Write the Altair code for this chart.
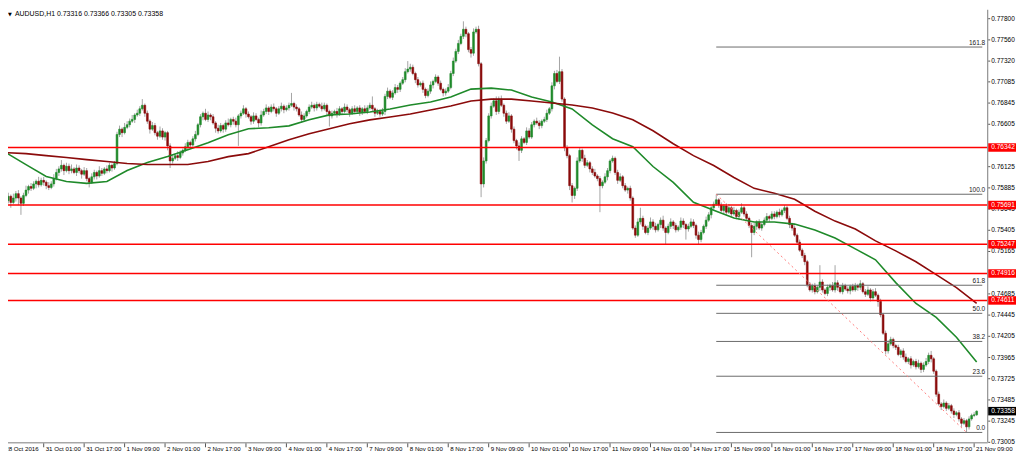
import altair as alt
import pandas as pd

# ---------------- data (prices in pips, 1 pip = 0.0001) ----------------
first_open_pips = 7578
close_pips = [
    7574, 7579, 7572, 7577, 7582, 7577, 7571, 7580, 7586, 7590, 7588, 7593, 7596, 7592, 7597, 7595,
    7591, 7589, 7593, 7599, 7606, 7610, 7614, 7608, 7613, 7608, 7610, 7606, 7611, 7608, 7604, 7608,
    7599, 7595, 7601, 7606, 7602, 7608, 7605, 7610, 7608, 7614, 7611, 7616, 7649, 7655, 7651, 7657,
    7660, 7664, 7666, 7671, 7673, 7678, 7682, 7673, 7664, 7655, 7659, 7651, 7647, 7653, 7646, 7651,
    7636, 7619, 7622, 7625, 7623, 7628, 7631, 7635, 7640, 7637, 7644, 7649, 7660, 7669, 7673, 7666,
    7671, 7669, 7662, 7656, 7653, 7659, 7655, 7662, 7660, 7666, 7664, 7660, 7670, 7673, 7678, 7672,
    7669, 7664, 7670, 7666, 7662, 7671, 7675, 7679, 7675, 7680, 7678, 7673, 7678, 7681, 7677, 7679,
    7682, 7684, 7680, 7678, 7671, 7666, 7670, 7675, 7680, 7682, 7679, 7683, 7681, 7678, 7682, 7675,
    7670, 7673, 7675, 7672, 7678, 7675, 7680, 7677, 7673, 7678, 7675, 7679, 7674, 7678, 7675, 7679,
    7682, 7678, 7673, 7675, 7672, 7675, 7692, 7698, 7691, 7696, 7702, 7700, 7707, 7711, 7720, 7723,
    7725, 7718, 7711, 7705, 7707, 7700, 7693, 7698, 7705, 7709, 7714, 7707, 7700, 7696, 7698, 7702,
    7718, 7732, 7743, 7752, 7760, 7768, 7763, 7745, 7741, 7765, 7768, 7729, 7593, 7619, 7642, 7670,
    7681, 7687, 7675, 7689, 7682, 7673, 7664, 7670, 7655, 7642, 7636, 7631, 7644, 7640, 7653, 7646,
    7660, 7664, 7662, 7659, 7664, 7666, 7673, 7678, 7704, 7718, 7709, 7720, 7689, 7634, 7625, 7591,
    7580, 7588, 7619, 7631, 7622, 7614, 7617, 7610, 7606, 7602, 7599, 7591, 7595, 7601, 7608, 7619,
    7622, 7606, 7597, 7601, 7591, 7586, 7588, 7577, 7543, 7535, 7550, 7554, 7545, 7538, 7543, 7550,
    7545, 7541, 7547, 7552, 7543, 7538, 7545, 7550, 7546, 7541, 7544, 7551, 7547, 7542, 7545, 7550,
    7546, 7535, 7530, 7538, 7545, 7552, 7558, 7566, 7570, 7575, 7569, 7563, 7568, 7561, 7566, 7559,
    7563, 7556, 7561, 7566, 7559, 7554, 7546, 7538, 7545, 7550, 7543, 7547, 7552, 7556, 7554, 7559,
    7556, 7561, 7558, 7563, 7566, 7554, 7547, 7543, 7535, 7527, 7518, 7512, 7505, 7479, 7473, 7478,
    7471, 7476, 7482, 7473, 7469, 7476, 7478, 7473, 7481, 7476, 7471, 7478, 7474, 7472, 7477, 7473,
    7478, 7476, 7480, 7471, 7468, 7473, 7464, 7471, 7467, 7460, 7445, 7424, 7404, 7412, 7417, 7410,
    7408, 7400, 7404, 7397, 7392, 7395, 7388, 7392, 7386, 7390, 7383, 7388, 7392, 7399, 7395, 7381,
    7355, 7344, 7341, 7345, 7339, 7342, 7336, 7332, 7334, 7327, 7322, 7325, 7318, 7327, 7331, 7331.6, 7335.8,
]
upper_wick_pips = [
    3, 4, 2, 5, 3, 4, 2, 3, 5, 2, 4, 3, 2, 5, 3, 4,
    2, 4, 3, 5, 4, 3, 6, 2, 4, 3, 5, 2, 4, 3, 2, 4,
    3, 2, 4, 3, 2, 5, 3, 2, 4, 3, 2, 3, 3, 4, 2, 5,
    4, 3, 5, 2, 4, 3, 7, 2, 3, 2, 4, 3, 2, 5, 3, 2,
    2, 3, 4, 2, 5, 3, 2, 4, 3, 2, 3, 4, 2, 3, 2, 5,
    4, 2, 3, 2, 4, 3, 2, 3, 5, 2, 3, 4, 2, 3, 4, 2,
    3, 2, 4, 3, 2, 5, 3, 4, 2, 3, 4, 2, 3, 4, 2, 3,
    3, 12, 2, 3, 2, 4, 3, 2, 3, 4, 2, 3, 2, 4, 3, 2,
    2, 3, 2, 4, 3, 2, 4, 3, 2, 3, 4, 2, 3, 2, 4, 3,
    3, 10, 2, 3, 2, 4, 3, 4, 2, 3, 4, 3, 2, 3, 4, 9,
    4, 3, 2, 3, 2, 3, 2, 3, 4, 2, 3, 2, 3, 2, 3, 4,
    3, 4, 3, 4, 3, 9, 3, 2, 3, 4, 3, 4, 2, 4, 3, 3,
    4, 3, 5, 3, 4, 2, 3, 4, 2, 3, 2, 4, 3, 2, 4, 3,
    3, 2, 4, 3, 2, 3, 4, 2, 4, 3, 4, 17, 3, 2, 3, 2,
    3, 2, 4, 3, 2, 4, 3, 2, 3, 4, 2, 3, 2, 4, 3, 2,
    3, 2, 3, 4, 2, 3, 2, 3, 2, 3, 4, 12, 3, 2, 3, 5,
    3, 4, 2, 3, 5, 2, 3, 4, 2, 3, 2, 4, 3, 2, 3, 4,
    3, 2, 4, 3, 2, 4, 3, 2, 3, 6, 2, 3, 2, 3, 4, 2,
    4, 2, 3, 5, 2, 3, 2, 3, 4, 2, 3, 2, 3, 4, 2, 3,
    3, 2, 4, 2, 3, 2, 3, 2, 3, 2, 3, 2, 3, 2, 3, 2,
    3, 2, 19, 3, 2, 3, 2, 4, 20, 3, 2, 3, 2, 3, 2, 3,
    3, 2, 4, 2, 3, 4, 2, 3, 4, 2, 3, 2, 3, 4, 3, 2,
    2, 3, 2, 3, 4, 2, 3, 2, 3, 4, 2, 3, 4, 3, 5, 2,
    2, 3, 2, 4, 2, 3, 2, 3, 2, 3, 2, 3, 2, 3, 2, 3, 0.8,
]
lower_wick_pips = [
    4, 3, 6, 2, 4, 8, 13, 3, 2, 4, 3, 2, 5, 3, 2, 4,
    4, 3, 2, 3, 2, 4, 3, 5, 2, 4, 3, 2, 4, 3, 5, 2,
    3, 6, 2, 3, 4, 2, 3, 2, 3, 2, 4, 2, 2, 3, 5, 2,
    2, 3, 2, 4, 2, 3, 2, 4, 3, 5, 2, 3, 4, 2, 3, 4,
    5, 8, 3, 2, 4, 2, 3, 2, 3, 4, 2, 3, 2, 3, 4, 2,
    3, 4, 2, 5, 3, 2, 4, 3, 2, 3, 4, 3, 24, 3, 2, 4,
    2, 4, 3, 2, 5, 3, 2, 3, 4, 2, 3, 4, 2, 3, 4, 2,
    3, 2, 4, 3, 2, 4, 3, 2, 3, 2, 4, 3, 2, 3, 2, 4,
    12, 3, 2, 4, 2, 3, 2, 3, 4, 2, 3, 2, 4, 3, 2, 3,
    2, 3, 4, 2, 3, 2, 4, 3, 2, 3, 2, 4, 3, 2, 3, 2,
    3, 2, 4, 3, 2, 4, 3, 2, 3, 4, 2, 3, 2, 4, 3, 2,
    2, 3, 2, 3, 2, 3, 4, 3, 5, 3, 2, 3, 15, 4, 3, 2,
    3, 2, 4, 3, 2, 4, 3, 2, 4, 3, 4, 12, 3, 2, 3, 2,
    2, 3, 2, 4, 3, 2, 3, 2, 3, 4, 2, 3, 3, 4, 3, 5,
    8, 4, 3, 2, 4, 3, 2, 4, 3, 2, 3, 30, 3, 2, 4, 3,
    2, 3, 4, 2, 3, 2, 4, 3, 2, 3, 2, 3, 4, 2, 3, 2,
    4, 3, 2, 4, 3, 14, 2, 3, 4, 3, 2, 3, 4, 12, 3, 2,
    3, 4, 6, 3, 2, 3, 2, 4, 3, 2, 3, 2, 4, 3, 2, 3,
    2, 3, 4, 2, 3, 2, 3, 28, 3, 4, 2, 3, 2, 3, 4, 2,
    3, 2, 3, 2, 3, 2, 4, 3, 2, 3, 2, 3, 4, 3, 2, 3,
    3, 2, 4, 3, 2, 3, 4, 2, 3, 4, 2, 3, 2, 3, 4, 2,
    2, 4, 3, 2, 3, 2, 4, 3, 2, 6, 3, 2, 4, 3, 2, 3,
    3, 2, 4, 3, 2, 3, 4, 2, 3, 2, 4, 3, 2, 3, 4, 3,
    3, 2, 4, 2, 3, 2, 3, 4, 2, 3, 4, 2, 6.3, 3, 2, 2, 1.1,
]

ma_bars = list(range(1, 386, 8))
green_ma_pips = [
    7628.4, 7614.9, 7601.5, 7595.8, 7593.6, 7595.8, 7608.2, 7617.2, 7623.9, 7631.8,
    7639.6, 7648.6, 7655.4, 7656.5, 7658.7, 7665.5, 7671.1, 7672.2, 7674.4, 7677.8,
    7682.3, 7685.7, 7691.3, 7700.3, 7701.4, 7699.2, 7691.3, 7685.7, 7677.8, 7659.8,
    7644.1, 7635.1, 7612.7, 7594.7, 7572.3, 7563.3, 7554.3, 7549.8, 7549.8, 7547.5,
    7540.8, 7531.8, 7519.5, 7507.1, 7481.3, 7457.7, 7442.0, 7419.5, 7391.5,
]
maroon_ma_pips = [
    7628.4, 7627.3, 7625.0, 7622.8, 7620.5, 7618.3, 7616.1, 7614.9, 7614.9, 7614.9,
    7618.3, 7623.9, 7627.3, 7635.1, 7643.0, 7649.7, 7655.4, 7661.0, 7665.5, 7668.8,
    7672.2, 7676.7, 7681.2, 7686.8, 7689.0, 7689.0, 7686.8, 7684.6, 7682.3, 7678.9,
    7673.3, 7665.5, 7653.1, 7638.5, 7625.0, 7613.8, 7600.3, 7588.0, 7582.4, 7575.6,
    7562.1, 7550.9, 7541.9, 7528.5, 7517.2, 7504.9, 7490.3, 7475.7, 7457.7,
]

level_prices = [0.76342, 0.75691, 0.75247, 0.74916, 0.74611]
level_labels = ["0.76342", "0.75691", "0.75247", "0.74916", "0.74611"]

price_ticks = [0.77800, 0.77560, 0.77320, 0.77085, 0.76845, 0.76605, 0.76125, 0.75885,
               0.75645, 0.75405, 0.75165, 0.74685, 0.74445, 0.74205, 0.73965, 0.73725,
               0.73485, 0.73245, 0.73005]
price_tick_labels = ["0.77800", "0.77560", "0.77320", "0.77085", "0.76845", "0.76605",
                     "0.76125", "0.75885", "0.75645", "0.75405", "0.75165", "0.74685",
                     "0.74445", "0.74205", "0.73965", "0.73725", "0.73485", "0.73245",
                     "0.73005"]

time_labels = ["28 Oct 2016", "31 Oct 01:00", "31 Oct 17:00", "1 Nov 09:00", "2 Nov 01:00",
               "2 Nov 17:00", "3 Nov 09:00", "4 Nov 01:00", "4 Nov 17:00", "7 Nov 09:00",
               "8 Nov 01:00", "8 Nov 17:00", "9 Nov 09:00", "10 Nov 01:00", "10 Nov 17:00",
               "11 Nov 09:00", "14 Nov 01:00", "14 Nov 17:00", "15 Nov 09:00", "16 Nov 01:00",
               "16 Nov 17:00", "17 Nov 09:00", "18 Nov 01:00", "18 Nov 17:00", "21 Nov 09:00"]
time_label_bars = list(range(0, 385, 16))

fib_high, fib_low = 0.75813, 0.73117
fib_high_bar, fib_low_bar = 282, 381
fib_ratios = [1.618, 1.0, 0.618, 0.5, 0.382, 0.236, 0.0]
fib_texts = ["161.8", "100.0", "61.8", "50.0", "38.2", "23.6", "0.0"]

last_price = 0.73358
last_label = "0.73358"
header_text = "AUDUSD,H1  0.73316 0.73366 0.73305 0.73358"

# ---------------- tables ----------------
opens = [first_open_pips] + close_pips[:-1]
rows = []
for j, c in enumerate(close_pips):
    o = opens[j]
    rows.append({
        "bar": j + 1,
        "open": o / 1e4,
        "close": c / 1e4,
        "high": (max(o, c) + upper_wick_pips[j]) / 1e4,
        "low": (min(o, c) - lower_wick_pips[j]) / 1e4,
        "dir": "up" if c >= o else "down",
    })
candles = pd.DataFrame(rows)

ma_df = pd.DataFrame({
    "bar": ma_bars + ma_bars,
    "price": [p / 1e4 for p in green_ma_pips] + [p / 1e4 for p in maroon_ma_pips],
    "ma": ["green"] * len(ma_bars) + ["maroon"] * len(ma_bars),
})

W, H = 987, 436
X_MIN, X_MAX = 3.845, 387.22
Y_MIN, Y_MAX = 0.73005, 0.77901
BOX = 0.00048
FONT = "Liberation Sans"

xs = alt.Scale(domain=[X_MIN, X_MAX], nice=False, zero=False)
ys = alt.Scale(domain=[Y_MIN, Y_MAX], nice=False, zero=False)

levels_df = pd.DataFrame({"price": level_prices, "label": level_labels})
ticks_df = pd.DataFrame({"price": price_ticks, "label": price_tick_labels})
time_df = pd.DataFrame({"bar": time_label_bars, "label": time_labels})
fib_df = pd.DataFrame({
    "price": [fib_low + r * (fib_high - fib_low) for r in fib_ratios],
    "label": fib_texts,
    "start": [fib_high_bar] * len(fib_ratios),
    "end": [X_MAX] * len(fib_ratios),
})
diag_df = pd.DataFrame({"bar": [fib_high_bar, fib_low_bar], "price": [fib_high, fib_low]})
last_df = pd.DataFrame({"price": [last_price], "label": [last_label]})
one = pd.DataFrame({"a": [0]})

X = lambda f: alt.X(f, scale=xs, axis=None)
Y = lambda f: alt.Y(f, scale=ys, axis=None)

wicks = alt.Chart(candles).mark_rule(color="#a3a3a3", strokeWidth=1, clip=True).encode(
    x=X("bar:Q"), y=Y("low:Q"), y2="high:Q")

cscale = alt.Scale(domain=["up", "down"], range=["#1f8a2a", "#8b0b0b"])
bodies = alt.Chart(candles).mark_bar(width=1.8, strokeWidth=0.6, clip=True).encode(
    x=X("bar:Q"), y=Y("open:Q"), y2="close:Q",
    color=alt.Color("dir:N", scale=cscale, legend=None),
    stroke=alt.Stroke("dir:N", scale=cscale, legend=None))

mas = alt.Chart(ma_df).mark_line(strokeWidth=1.6, clip=True).encode(
    x=X("bar:Q"), y=Y("price:Q"),
    color=alt.Color("ma:N", scale=alt.Scale(domain=["green", "maroon"],
                                             range=["#1e9a1e", "#8b1414"]), legend=None))

red_lines = alt.Chart(levels_df).mark_rule(color="#ff0000", strokeWidth=1.4).encode(
    y=Y("price:Q"), x=alt.value(0), x2=alt.value(W))

fib_lines = alt.Chart(fib_df).mark_rule(color="#6a6a6a", strokeWidth=1).encode(
    x=X("start:Q"), x2="end:Q", y=Y("price:Q"))
fib_labels = alt.Chart(fib_df).mark_text(align="right", baseline="bottom", dy=-1,
                                         fontSize=6.6, font=FONT, color="#222222").encode(
    x=alt.value(W - 2), y=Y("price:Q"), text="label:N")
diag = alt.Chart(diag_df).mark_line(color="#ff7a7a", strokeWidth=1, strokeDash=[2, 3]).encode(
    x=X("bar:Q"), y=Y("price:Q"))

axis_right = alt.Chart(one).mark_rule(color="#7a7a7a", strokeWidth=1).encode(
    x=alt.value(W + 0.5), y=alt.value(0), y2=alt.value(H))
axis_bottom = alt.Chart(one).mark_rule(color="#7a7a7a", strokeWidth=1).encode(
    x=alt.value(0), x2=alt.value(W + 0.5), y=alt.value(H + 0.5))

y_ticks = alt.Chart(ticks_df).mark_rule(color="#555555").encode(
    y=Y("price:Q"), x=alt.value(W + 1), x2=alt.value(W + 3))
y_labels = alt.Chart(ticks_df).mark_text(align="left", baseline="middle", fontSize=6.6,
                                         font=FONT, color="#000000").encode(
    y=Y("price:Q"), x=alt.value(W + 4), text="label:N")

box_enc = dict(x=alt.value(W + 1), x2=alt.value(W + 29),
               y=Y("top:Q"), y2="bot:Q")
red_boxes = alt.Chart(levels_df).transform_calculate(
    top=f"datum.price + {BOX}", bot=f"datum.price - {BOX}").mark_rect(color="#ff0000").encode(**box_enc)
red_box_text = alt.Chart(levels_df).mark_text(align="left", baseline="middle", fontSize=6.6,
                                              font=FONT, color="#ffffff").encode(
    y=Y("price:Q"), x=alt.value(W + 4), text="label:N")
last_box = alt.Chart(last_df).transform_calculate(
    top=f"datum.price + {BOX}", bot=f"datum.price - {BOX}").mark_rect(color="#000000").encode(**box_enc)
last_text = alt.Chart(last_df).mark_text(align="left", baseline="middle", fontSize=6.6,
                                         font=FONT, color="#ffffff").encode(
    y=Y("price:Q"), x=alt.value(W + 4), text="label:N")

x_ticks = alt.Chart(time_df).mark_rule(color="#555555").encode(
    x=X("bar:Q"), y=alt.value(H + 1), y2=alt.value(H + 5))
x_labels = alt.Chart(time_df).mark_text(align="left", baseline="middle", dx=2, fontSize=6.2,
                                        font=FONT, color="#000000").encode(
    x=X("bar:Q"), y=alt.value(H + 7), text="label:N")

tri = alt.Chart(one).mark_text(text="\u25bc", align="left", baseline="middle", fontSize=5,
                               font="DejaVu Sans", color="#000000").encode(
    x=alt.value(0), y=alt.value(4))
header = alt.Chart(one).mark_text(text=header_text, align="left", baseline="middle",
                                  fontSize=7, font=FONT, color="#000000").encode(
    x=alt.value(7), y=alt.value(4))

chart = alt.layer(
    wicks, bodies, mas, red_lines, fib_lines, diag, fib_labels,
    axis_right, axis_bottom, y_ticks, y_labels, red_boxes, red_box_text,
    last_box, last_text, x_ticks, x_labels, tri, header,
).properties(
    width=W, height=H,
    autosize=alt.AutoSizeParams(type="none"),
    padding={"left": 0, "top": 0, "right": 29, "bottom": 13},
    background="#ffffff",
).configure_view(stroke=None)

chart.save("out.html", embed_options={"renderer": "svg", "actions": False})
